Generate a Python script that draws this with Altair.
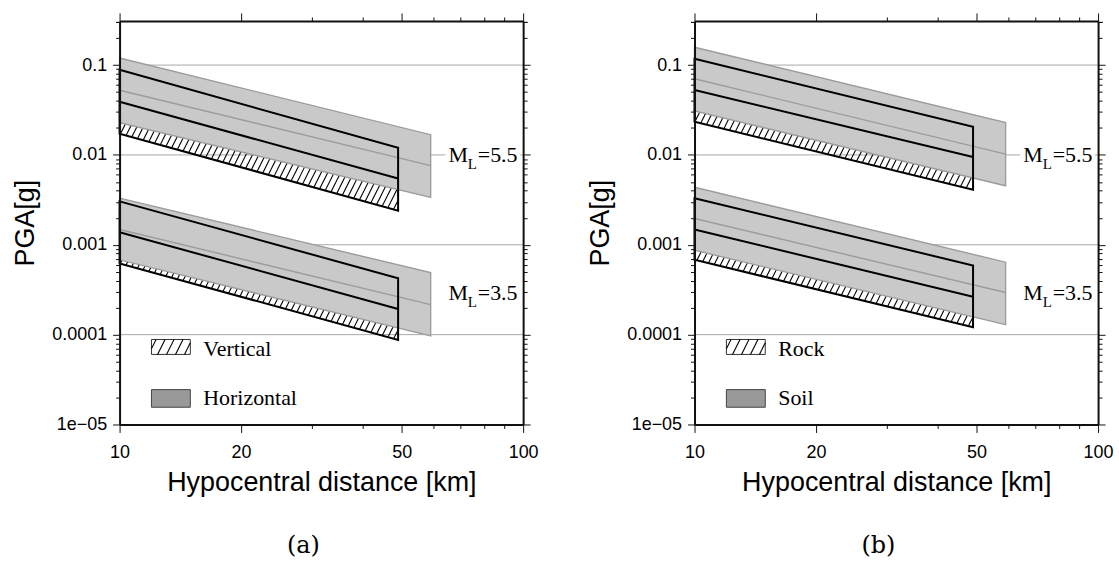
import altair as alt
import numpy as np
import pandas as pd

# ---------------- data ----------------
X_DOMAIN = [10, 100]
Y_DOMAIN = [1e-5, 0.31]
X_TICKS = [10, 20, 30, 40, 50, 60, 70, 80, 90, 100]
Y_TICKS = [m * 10.0 ** e for e in range(-5, 0) for m in range(1, 10)] + [0.1, 0.2, 0.3]
GRID_Y = [0.1, 0.01, 0.001, 0.0001]

GRAY_X = [10, 59]    # extent of the grey band (Horizontal / Soil)
BLACK_X = [10, 49]   # extent of the black-outlined band (Vertical / Rock)

# Panel (a): Vertical (black) vs Horizontal (grey)
A_G55_UP, A_G55_MID, A_G55_LO = [0.12, 0.0168], [0.0525, 0.0076], [0.0228, 0.00337]
A_B55_UP, A_B55_MID, A_B55_LO = [0.0887, 0.0120], [0.039, 0.00547], [0.0172, 0.0024]
A_G35_UP, A_G35_MID, A_G35_LO = [0.0033, 0.00049], [0.00148, 0.000216], [0.00068, 0.0000968]
A_B35_UP, A_B35_MID, A_B35_LO = [0.00304, 0.000424], [0.00138, 0.000193], [0.00062, 0.0000874]

# Panel (b): Rock (black) vs Soil (grey)
B_G55_UP, B_G55_MID, B_G55_LO = [0.158, 0.0229], [0.0704, 0.0102], [0.0308, 0.00454]
B_B55_UP, B_B55_MID, B_B55_LO = [0.1175, 0.0206], [0.0527, 0.0095], [0.0234, 0.0041]
B_G35_UP, B_G35_MID, B_G35_LO = [0.00437, 0.00064], [0.00196, 0.000294], [0.00087, 0.000129]
B_B35_UP, B_B35_MID, B_B35_LO = [0.0033, 0.000588], [0.00148, 0.000264], [0.00068, 0.000121]

MAGS = ["5.5", "3.5"]

W = 405
H = 405
KX = W / np.log10(X_DOMAIN[1] / X_DOMAIN[0])
KY = H / np.log10(Y_DOMAIN[1] / Y_DOMAIN[0])

xscale = alt.Scale(type="log", domain=X_DOMAIN, nice=False)
yscale = alt.Scale(type="log", domain=Y_DOMAIN, nice=False)

FONT_SANS = "Liberation Sans"
FONT_SERIF = "Liberation Serif"


def to_px(x, v):
    return KX * np.log10(x / X_DOMAIN[0]), KY * np.log10(v / Y_DOMAIN[0])


def from_px(X, Y):
    return X_DOMAIN[0] * 10 ** (X / KX), Y_DOMAIN[0] * 10 ** (Y / KY)


def line_coef(xs, vs):
    X0, Y0 = to_px(xs[0], vs[0])
    X1, Y1 = to_px(xs[1], vs[1])
    b = (Y1 - Y0) / (X1 - X0)
    return Y0 - b * X0, b


def hatch(xa, xb, lo_x, lo_v, up_x, up_v, spacing, slope=2.0):
    """Diagonal hatch segments between two straight (log-log) lines."""
    al, bl = line_coef(lo_x, lo_v)
    au, bu = line_coef(up_x, up_v)
    Xa, _ = to_px(xa, Y_DOMAIN[0])
    Xb, _ = to_px(xb, Y_DOMAIN[0])
    rows = []
    for c in np.arange(-600, 600, spacing):
        Xlow = (al + slope * c) / (slope - bl)
        Xup = (au + slope * c) / (slope - bu)
        xs_ = max(Xlow, Xa)
        xe_ = min(Xup, Xb)
        if xe_ > xs_ + 0.3:
            x1, y1 = from_px(xs_, slope * (xs_ - c))
            x2, y2 = from_px(xe_, slope * (xe_ - c))
            rows.append({"x1": x1, "y1": y1, "x2": x2, "y2": y2})
    return rows


DEC_TEST = "abs(log(datum.value)/LN10 - round(log(datum.value)/LN10)) < 0.001"
Y_LABEL_EXPR = (
    "(" + DEC_TEST + ") ? (datum.value >= 0.05 ? '0.1' : datum.value >= 0.005 ? '0.01' : "
    "datum.value >= 0.0005 ? '0.001' : datum.value >= 0.00005 ? '0.0001' : '1e\u221205') : ''"
)
X_MAJOR_TEST = "indexof([10, 20, 50, 100], datum.value) >= 0"
X_LABEL_EXPR = "(" + X_MAJOR_TEST + ") ? format(datum.value, 'd') : ''"

axis_common = dict(
    domainColor="#111111", domainWidth=2, tickColor="#111111", tickWidth=1,
    grid=False, zindex=1, labelOverlap=False, labelFlush=False,
)


def panel(p, legend_top, legend_bot, caption):
    gray = pd.DataFrame({
        "x": GRAY_X * 2,
        "up": p["g55"][0] + p["g35"][0],
        "mid": p["g55"][1] + p["g35"][1],
        "lo": p["g55"][2] + p["g35"][2],
        "m": [MAGS[0]] * 2 + [MAGS[1]] * 2,
    })
    black = pd.DataFrame({
        "x": BLACK_X * 2,
        "up": p["b55"][0] + p["b35"][0],
        "mid": p["b55"][1] + p["b35"][1],
        "lo": p["b55"][2] + p["b35"][2],
        "m": [MAGS[0]] * 2 + [MAGS[1]] * 2,
    })
    hatch_rows = []
    for g, b in (("g55", "b55"), ("g35", "b35")):
        hatch_rows += hatch(BLACK_X[0], BLACK_X[1], BLACK_X, p[b][2], GRAY_X, p[g][2], spacing=6.5)
    # legend swatch hatch (pixel box converted to data space)
    sx0, sx1, sy0, sy1 = 32, 71, H - 334.7, H - 319.7
    lx0, lv0 = from_px(sx0, sy0)
    lx1, lv1 = from_px(sx1, sy1)
    hatch_rows += hatch(lx0, lx1, [lx0, lx1], [lv0, lv0], [lx0, lx1], [lv1, lv1], spacing=9)
    hatch_df = pd.DataFrame(hatch_rows)

    one = pd.DataFrame({"a": [0]})

    grid = alt.Chart(pd.DataFrame({"g": GRID_Y})).mark_rule(
        color="#a8a8a8", strokeWidth=1
    ).encode(y=alt.Y("g:Q", scale=yscale, axis=None))

    label_box = alt.Chart(one).mark_rect(color="white").encode(
        x=alt.value(327), x2=alt.value(402), y=alt.value(124), y2=alt.value(150)
    )

    swatch_white = alt.Chart(one).mark_rect(fill="white", stroke="#333333", strokeWidth=1).encode(
        x=alt.value(32), x2=alt.value(71), y=alt.value(319.7), y2=alt.value(334.7)
    )

    hatch_layer = alt.Chart(hatch_df).mark_rule(color="black", strokeWidth=1.1).encode(
        x=alt.X("x1:Q", scale=xscale, axis=None),
        x2="x2:Q",
        y=alt.Y("y1:Q", scale=yscale, axis=None),
        y2="y2:Q",
    )

    gray_area = alt.Chart(gray).mark_area(
        fill="#c9c9c9", stroke="#9c9c9c", strokeWidth=1.4
    ).encode(
        x=alt.X("x:Q", scale=xscale, title="Hypocentral distance [km]",
                axis=alt.Axis(orient="bottom", values=X_TICKS, labelExpr=X_LABEL_EXPR,
                              tickSize={"condition": {"test": X_MAJOR_TEST, "value": 8}, "value": 4},
                              labelFont=FONT_SANS, labelFontSize=18, labelColor="black",
                              labelPadding=11, titleFont=FONT_SANS, titleFontSize=27,
                              titleFontWeight="normal", titleColor="black", titlePadding=8,
                              **axis_common)),
        y=alt.Y("up:Q", scale=yscale, title="PGA[g]",
                axis=alt.Axis(orient="left", values=Y_TICKS, labelExpr=Y_LABEL_EXPR,
                              tickSize={"condition": {"test": DEC_TEST, "value": 7}, "value": 4},
                              labelFont=FONT_SANS, labelFontSize=18, labelColor="black",
                              labelPadding=6, titleFont=FONT_SANS, titleFontSize=27,
                              titleFontWeight="normal", titleColor="black", titlePadding=12,
                              **axis_common)),
        y2="lo:Q",
        detail="m:N",
    )

    gray_mid = alt.Chart(gray).mark_line(color="#9c9c9c", strokeWidth=1.4).encode(
        x=alt.X("x:Q", scale=xscale, axis=None),
        y=alt.Y("mid:Q", scale=yscale, axis=None),
        detail="m:N",
    )

    black_outline = alt.Chart(black).mark_area(
        fillOpacity=0, stroke="black", strokeWidth=2
    ).encode(
        x=alt.X("x:Q", scale=xscale, title=None,
                axis=alt.Axis(orient="top", values=X_TICKS, labels=False, minExtent=0,
                              tickSize={"condition": {"test": X_MAJOR_TEST, "value": 8}, "value": 4},
                              **axis_common)),
        y=alt.Y("up:Q", scale=yscale, title=None,
                axis=alt.Axis(orient="right", values=Y_TICKS, labels=False, minExtent=0,
                              tickSize={"condition": {"test": DEC_TEST, "value": 7}, "value": 4},
                              **axis_common)),
        y2="lo:Q",
        detail="m:N",
    )

    black_mid = alt.Chart(black).mark_line(color="black", strokeWidth=2).encode(
        x=alt.X("x:Q", scale=xscale, axis=None),
        y=alt.Y("mid:Q", scale=yscale, axis=None),
        detail="m:N",
    )

    def txt(s, x, y, size, baseline="alphabetic", font=FONT_SERIF):
        return alt.Chart(one).mark_text(
            text=s, font=font, fontSize=size, align="left", baseline=baseline, color="black"
        ).encode(x=alt.value(x), y=alt.value(y))

    ml = [
        txt("M", 330, 142, 22), txt("L", 349.5, 148.5, 15), txt("=5.5", 359.5, 142, 22),
        txt("M", 330, 280.3, 22), txt("L", 349.5, 286.8, 15), txt("=3.5", 359.5, 280.3, 22),
    ]

    swatch_gray = alt.Chart(one).mark_rect(fill="#999999", stroke="#444444", strokeWidth=1).encode(
        x=alt.value(32), x2=alt.value(71), y=alt.value(370), y2=alt.value(387.7)
    )
    leg = [
        txt(legend_top, 84, 329, 22, baseline="middle"),
        txt(legend_bot, 84, 378.5, 22, baseline="middle"),
    ]

    layers = [grid, label_box, swatch_white, hatch_layer, gray_area, gray_mid,
              black_outline, black_mid, swatch_gray] + ml + leg
    return alt.layer(*layers).resolve_axis(x="independent", y="independent").properties(
        width=W, height=H,
        title=alt.TitleParams(caption, orient="bottom", font="DejaVu Serif", fontSize=24,
                              fontWeight="normal", color="black", offset=39, dx=-18),
    )


pa = dict(g55=[A_G55_UP, A_G55_MID, A_G55_LO], b55=[A_B55_UP, A_B55_MID, A_B55_LO],
          g35=[A_G35_UP, A_G35_MID, A_G35_LO], b35=[A_B35_UP, A_B35_MID, A_B35_LO])
pb = dict(g55=[B_G55_UP, B_G55_MID, B_G55_LO], b55=[B_B55_UP, B_B55_MID, B_B55_LO],
          g35=[B_G35_UP, B_G35_MID, B_G35_LO], b35=[B_B35_UP, B_B35_MID, B_B35_LO])

chart = alt.hconcat(
    panel(pa, "Vertical", "Horizontal", "(a)"),
    panel(pb, "Rock", "Soil", "(b)"),
    spacing=47,
).properties(
    padding={"left": 11, "top": 11, "right": 5, "bottom": 0},
    background="white",
).configure_view(stroke=None)

chart.save("out.html", embed_options={"renderer": "svg", "actions": False})
